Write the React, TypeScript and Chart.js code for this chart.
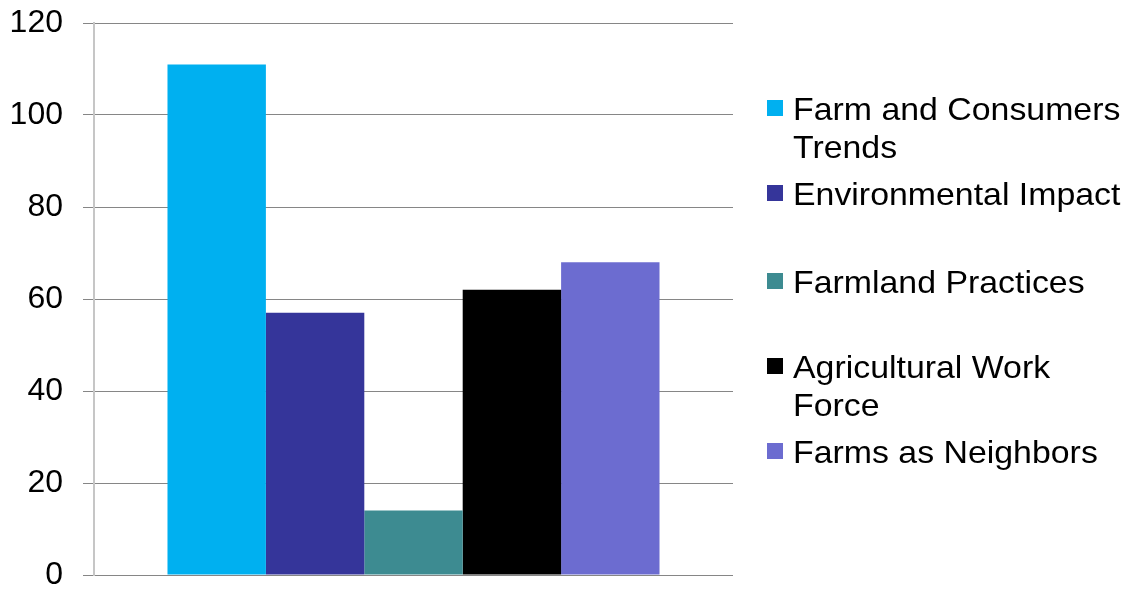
import React, { useEffect, useRef } from "react";
import { Chart, registerables } from "chart.js";

Chart.register(...registerables);

const categories = [""];
const seriesNames = [
  "Farm and Consumers Trends",
  "Environmental Impact",
  "Farmland Practices",
  "Agricultural Work Force",
  "Farms as Neighbors",
];
const seriesValues = [111, 57, 14, 62, 68];
const seriesColors = ["#00B0F0", "#35359A", "#3D8B91", "#000000", "#6C6CD0"];
const yTicks = [0, 20, 40, 60, 80, 100, 120];

const legendTops = [90, 175, 263, 348, 433];

const FONT = "'Liberation Sans', Arial, sans-serif";

export default function App() {
  const ref = useRef<HTMLCanvasElement | null>(null);

  useEffect(() => {
    if (!ref.current) return;
    const chart = new Chart(ref.current, {
      type: "bar",
      data: {
        labels: categories,
        datasets: seriesNames.map((name, i) => ({
          label: name,
          data: [seriesValues[i]],
          backgroundColor: seriesColors[i],
          borderWidth: 0,
          barPercentage: 1,
          categoryPercentage: 0.77,
        })),
      },
      options: {
        animation: false,
        responsive: false,
        maintainAspectRatio: false,
        layout: { padding: { left: 0, right: 394, top: 23, bottom: 18 } },
        plugins: { legend: { display: false }, tooltip: { enabled: false } },
        scales: {
          x: {
            display: false,
            grid: { display: false },
          },
          y: {
            min: 0,
            max: 120,
            afterFit: (s: any) => {
              s.width = 94;
              s.paddingTop = 0;
              s.paddingBottom = 0;
            },
            afterBuildTicks: (s: any) => {
              s.ticks = yTicks.map((v) => ({ value: v }));
            },
            ticks: {
              color: "#000000",
              padding: 20,
              font: { family: FONT, size: 32 },
            },
            grid: {
              color: "#868686",
              lineWidth: 1,
              tickLength: 11,
              drawTicks: true,
            },
            border: { display: true, color: "#C6C6C6", width: 2 },
          },
        },
      },
    });
    return () => chart.destroy();
  }, []);

  return (
    <div
      style={{
        position: "fixed",
        left: 0,
        top: 0,
        width: 1127,
        height: 593,
        background: "#ffffff",
        overflow: "hidden",
      }}
    >
      <canvas ref={ref} width={1127} height={593} style={{ width: 1127, height: 593, display: "block" }} />
      {seriesNames.map((name, i) => (
        <div
          key={name}
          style={{ position: "absolute", left: 767, top: legendTops[i], width: 360 }}
        >
          <div
            style={{
              position: "absolute",
              left: 0,
              top: 10,
              width: 16,
              height: 16,
              background: seriesColors[i],
            }}
          />
          <div
            style={{
              position: "absolute",
              left: 26,
              top: 0,
              width: 316,
              fontFamily: FONT,
              fontSize: 32,
              lineHeight: "38px",
              color: "#000000",
              transform: "scaleX(1.058)",
              transformOrigin: "left top",
            }}
          >
            {name}
          </div>
        </div>
      ))}
    </div>
  );
}
